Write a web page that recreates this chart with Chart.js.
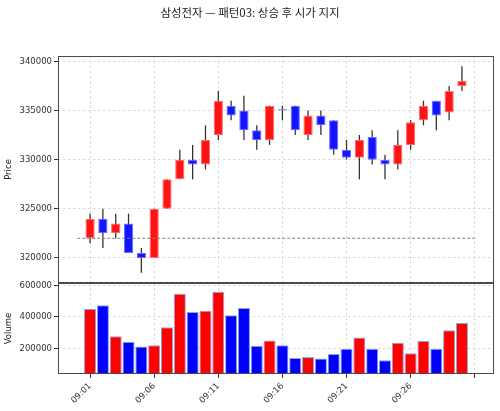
<!DOCTYPE html>
<html><head><meta charset="utf-8">
<script src="https://cdn.jsdelivr.net/npm/chart.js@4"></script>
<style>html,body{margin:0;padding:0;background:#fff;overflow:hidden;width:500px;height:411px}
canvas{position:absolute;left:0;top:0}</style></head>
<body>
<canvas id="c1" width="500" height="411"></canvas>
<canvas id="c2" width="500" height="411"></canvas>
<script>
const times = ['09:01','09:02','09:03','09:04','09:05','09:06','09:07','09:08','09:09','09:10',
  '09:11','09:12','09:13','09:14','09:15','09:16','09:17','09:18','09:19','09:20',
  '09:21','09:22','09:23','09:24','09:25','09:26','09:27','09:28','09:29','09:30'];
const opens  = [322000,324000,322500,323500,320500,320000,325000,328000,330000,329500,
  332500,335500,335000,333000,332000,335000,335500,332500,334500,334000,
  331000,330200,332300,330000,329500,331500,334000,336000,334800,337500];
const highs  = [324500,325000,324500,324500,321000,325000,328000,331000,331500,333500,
  337000,336000,336500,333500,335500,335500,335500,335000,335000,334000,
  332000,332500,333000,330500,333000,334000,336000,336000,337500,339500];
const lows   = [321500,321000,322000,320500,318500,320000,325000,328000,328000,329000,
  332000,334000,332000,331000,331500,334000,332500,332000,332500,330500,
  330000,328000,329500,328000,329000,331000,333500,333000,334000,337000];
const closes = [324000,322500,323500,320500,320000,325000,328000,330000,329500,332000,
  336000,334500,333000,332000,335500,335000,333000,334500,333500,331000,
  330200,332000,330000,329500,331500,333800,335500,334500,337000,338000];
const volumes = [451000,474000,277000,243000,213000,221000,334000,547000,432000,440000,
  560000,411000,457000,217000,251000,221000,140000,145000,136000,164000,
  198000,270000,198000,125000,236000,170000,247000,198000,315000,362000];
const priceTicks = [320000,325000,330000,335000,340000];
const volumeTicks = [200000,400000,600000];
const xTickIndex = [0,5,10,15,20,25,30];
const xTickLabels = ['09:01','09:06','09:11','09:16','09:21','09:26',''];
const supportPrice = 322000;
const supportSpan = [-1, 30];
const titleText = '삼성전자 — 패턴03: 상승 후 시가 지지';

Chart.defaults.font.family = 'DejaVu Sans';
Chart.defaults.font.size = 8.5;
Chart.defaults.color = '#333';

const up = closes.map((c,i)=> c > opens[i]);
const fillCol = up.map(u => u ? '#ff1414' : '#1414ff');
const edgeCol = up.map(u => u ? '#ff6a6a' : '#6a6aff');
const volCol = up.map(u => u ? '#ff0000' : '#0000ff');

const lo = Math.min(...lows), hi = Math.max(...highs), pad = (hi - lo) * 0.05;
const vMin = Math.min(...volumes) * 0.3, vMax = Math.max(...volumes) * 1.1;

const boxPlugin = {id:'box', afterDraw(chart){
  const {ctx, chartArea:a} = chart;
  ctx.save(); ctx.strokeStyle = '#4a4a4a'; ctx.lineWidth = 1;
  ctx.strokeRect(Math.round(a.left)+0.5, Math.round(a.top)+0.5, Math.round(a.right-a.left)-1, Math.round(a.bottom-a.top)-1);
  ctx.restore();
}};

const gridCommon = {color:'#cfcfcf', lineWidth:0.8, tickColor:'#333', tickBorderDash:[], tickLength:4, tickWidth:1, offset:false};
const borderCommon = {display:false, dash:[2.5,2.5]};

const xScaleTop = {
  type:'linear', min:-2.5, max:31.5, offset:false,
  afterBuildTicks: ax => { ax.ticks = xTickIndex.map(v => ({value:v})); },
  afterFit: ax => { ax.height = 0; },
  ticks:{display:false},
  grid:Object.assign({}, gridCommon, {drawTicks:false}),
  border:borderCommon
};

new Chart(document.getElementById('c1'), {
  type:'bar',
  data:{datasets:[
    {type:'line', data: supportSpan.map(x => ({x, y:supportPrice})), borderColor:'#808080', borderWidth:1, borderDash:[3,2], pointRadius:0, order:0},
    {data: opens.map((o,i)=>({x:i, y:[o, closes[i]]})), backgroundColor:fillCol, borderColor:edgeCol, borderWidth:1,
      barPercentage:0.72, categoryPercentage:1, grouped:false, minBarLength:1.2, borderSkipped:false, order:1},
    {data: highs.map((h,i)=>({x:i, y:[lows[i], h]})), backgroundColor:'#333', borderWidth:0,
      barPercentage:0.1, categoryPercentage:1, grouped:false, order:2}
  ]},
  options:{
    responsive:false, animation:false, devicePixelRatio:1,
    layout:{padding:{left:0, right:0, top:0, bottom:128}},
    plugins:{legend:{display:false}, tooltip:{enabled:false},
      title:{display:true, text:titleText, color:'#222', font:{family:'Noto Sans CJK KR', size:11.5, weight:'normal'}, padding:{top:5.5, bottom:36.7}}},
    scales:{
      x: xScaleTop,
      y:{type:'linear', min:lo-pad, max:hi+pad,
        afterBuildTicks: ax => { ax.ticks = priceTicks.map(v => ({value:v})); },
        afterFit: ax => { ax.width = 58; },
        ticks:{padding:2, callback: v => String(v)},
        grid:gridCommon, border:borderCommon,
        title:{display:true, text:'Price', color:'#222', font:{size:8.5}, padding:{top:4, bottom:0}}},
      yRight:{type:'linear', position:'right', display:true, min:lo-pad, max:hi+pad,
        afterFit: ax => { ax.width = 6; },
        ticks:{display:false}, grid:{drawOnChartArea:false, drawTicks:false}, border:{display:false}}
    }
  },
  plugins:[boxPlugin]
});

new Chart(document.getElementById('c2'), {
  type:'bar',
  data:{datasets:[
    {data: volumes.map((v,i)=>({x:i, y:v})), backgroundColor:volCol, borderColor:'#8aa8d8', borderWidth:1,
      barPercentage:0.94, categoryPercentage:1, grouped:false, borderSkipped:false, base:0}
  ]},
  options:{
    responsive:false, animation:false, devicePixelRatio:1,
    layout:{padding:{left:0, right:6, top:283, bottom:0}},
    plugins:{legend:{display:false}, tooltip:{enabled:false}},
    scales:{
      x:{type:'linear', min:-2.5, max:31.5, offset:false,
        afterBuildTicks: ax => { ax.ticks = xTickIndex.map(v => ({value:v})); },
        afterFit: ax => { ax.height = 37; },
        ticks:{autoSkip:false, maxRotation:45, minRotation:45, padding:3, callback:(v,i)=> xTickLabels[i]},
        grid:gridCommon, border:borderCommon},
      y:{type:'linear', min:vMin, max:vMax,
        afterBuildTicks: ax => { ax.ticks = volumeTicks.map(v => ({value:v})); },
        afterFit: ax => { ax.width = 58; },
        ticks:{padding:2, callback: v => String(v)},
        grid:gridCommon, border:borderCommon,
        title:{display:true, text:'Volume', color:'#222', font:{size:8.5}, padding:{top:4, bottom:0}}}
    }
  },
  plugins:[boxPlugin]
});
</script>
</body></html>
